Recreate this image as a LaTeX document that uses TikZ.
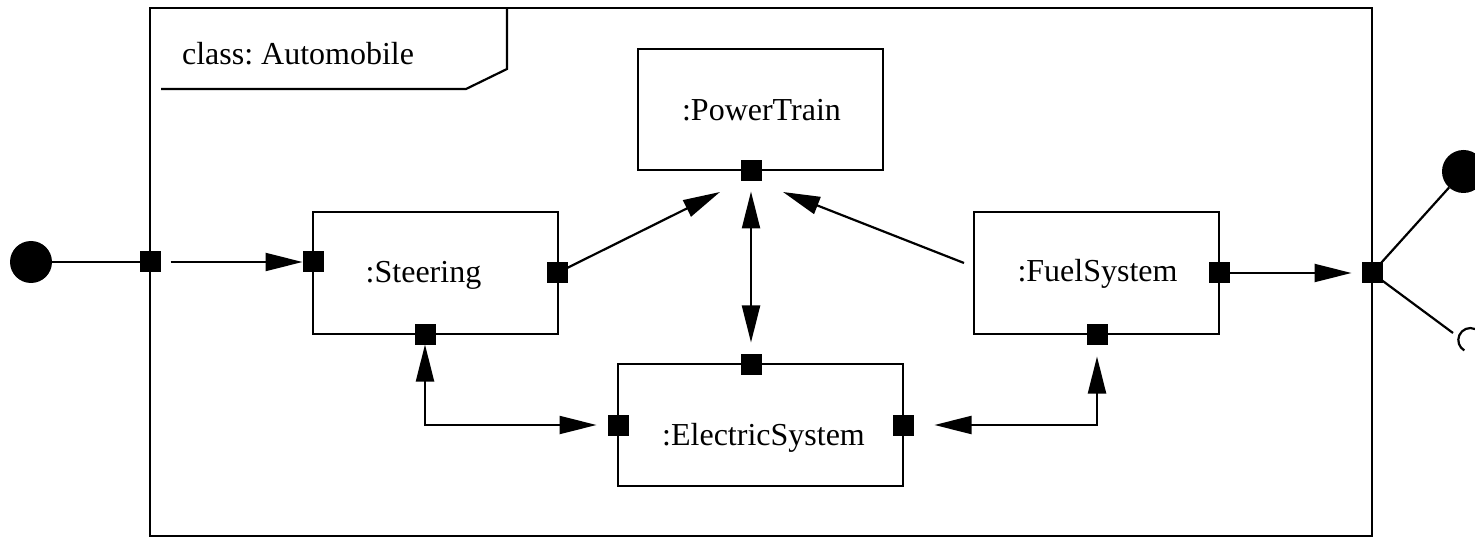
\documentclass[tikz,border=0pt]{standalone}
\usepackage{fontspec}
\setmainfont{Liberation Serif}
\usetikzlibrary{arrows.meta}
\frenchspacing
\begin{document}
\begin{tikzpicture}[x=1pt,y=-1pt,
  line width=2.2pt,
  arr/.tip={Triangle[length=37pt,width=18pt]},
  box/.style={draw, line width=2.2pt, inner sep=0pt, outer sep=0pt, minimum height=122pt},
  port/.style={fill=black, draw=none, minimum size=21pt, inner sep=0pt, outer sep=0pt},
  ball/.style={circle, fill=black, draw=none, inner sep=0pt, outer sep=0pt},
  lbl/.style={anchor=base, inner sep=0pt, font=\fontsize{32}{38}\selectfont},
  conn/.style={line width=2.2pt}]
\useasboundingbox (0,0) rectangle (1475,537);
\clip (0,0) rectangle (1475,537);
% frame
\node[draw, line width=2.2pt, inner sep=0pt, minimum width=1222pt, minimum height=528pt] (frame) at (761,272) {};
\draw[line width=2.2pt] (161,89) -- (466,89) -- (507,69) -- (507,8);
\node[anchor=base west, inner sep=0pt, font=\fontsize{32}{38}\selectfont] (title) at (181,65) {class: Automobile};
% parts
\node[box, minimum width=245pt] (st) at (435.5,273) {};
\node[box, minimum width=245pt, minimum height=121pt] (pt) at (760.5,109.5) {};
\node[box, minimum width=245pt] (fs) at (1096.5,273) {};
\node[box, minimum width=285pt] (es) at (760.5,425) {};
\node[lbl] (stt) at (423.5,283) {:Steering};
\node[lbl] (ptt) at (761.5,121) {:PowerTrain};
\node[lbl] (fst) at (1097.5,282) {:FuelSystem};
\node[lbl] (est) at (763.5,445) {:ElectricSystem};
% ports
\node[port] (pL) at (150,262) {};
\node[port] (stL) at (313,262) {};
\node[port] (stR) at (557,273) {};
\node[port] (stB) at (425,334) {};
\node[port] (ptB) at (751,171) {};
\node[port] (esT) at (751,364) {};
\node[port] (esL) at (618,425) {};
\node[port] (esR) at (903,425) {};
\node[port] (fsR) at (1219,273) {};
\node[port] (fsB) at (1097,334) {};
\node[port] (pR) at (1372,273) {};
% external interfaces
\node[ball, minimum size=42pt] (ballL) at (31,262) {};
\node[ball, minimum size=43pt] (ballR) at (1463.5,171.5) {};
\coordinate (sockEnd) at (1453,333);
\coordinate (tipA) at (720,192);
\coordinate (tipC) at (783,192);
\coordinate (fsIn) at (964,263);
% connectors
\draw[conn] (ballL) -- (pL);
\draw[conn, -arr, shorten <=10pt] (pL) -- (stL);
\draw[conn, -arr] (stR) -- (tipA);
\draw[conn, -arr] (fsIn) -- (tipC);
\draw[conn, arr-arr, shorten <=10pt, shorten >=11pt] (ptB) -- (esT);
\draw[conn, arr-arr, shorten >=11pt] (stB) |- (esL);
\draw[conn, arr-arr, shorten <=21pt, shorten >=12pt] (esR) -| (fsB);
\draw[conn, -arr, shorten >=10pt] (fsR) -- (pR);
\draw[conn] (pR) -- (ballR);
\draw[conn] (pR) -- (sockEnd);
\draw[conn] (1475,329) arc[start angle=67, end angle=240, radius=12pt];
\end{tikzpicture}
\end{document}
